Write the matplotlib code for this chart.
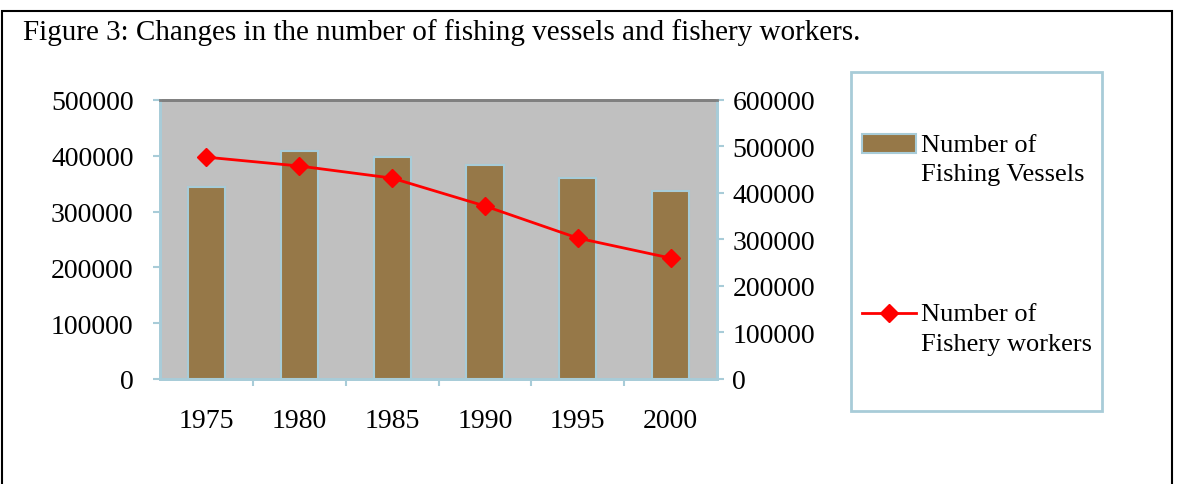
import matplotlib.pyplot as plt
from matplotlib.patches import Rectangle

years = ['1975', '1980', '1985', '1990', '1995', '2000']
vessels = [344000, 408000, 398000, 383000, 360000, 337000]
workers = [477000, 458000, 432000, 372000, 303000, 260000]

plt.rcParams['font.family'] = 'Liberation Serif'

fig = plt.figure(figsize=(11.82, 4.85), dpi=100)
ax = fig.add_axes([0.1354, 0.2165, 0.4712, 0.5753])
ax2 = ax.twinx()

edge = '#A8CCD8'
x = range(len(years))
bars = ax.bar(x, vessels, width=0.4, color='#967848', edgecolor=edge, linewidth=1.5,
              label='Number of\nFishing Vessels', zorder=2)
line, = ax2.plot(x, workers, color='red', lw=2, marker='D', markersize=9,
                 label='Number of\nFishery workers')

ax.set_facecolor('#C0C0C0')
ax.set_xlim(-0.5, 5.5)
ax.set_ylim(0, 500000)
ax2.set_ylim(0, 600000)
ax.set_yticks(range(0, 500001, 100000))
ax2.set_yticks(range(0, 600001, 100000))
ax.set_xticks(x)
ax.set_xticklabels(years)
ax.set_xticks([i + 0.5 for i in range(5)], minor=True)
ax.tick_params(axis='x', which='major', length=0, pad=21, labelsize=20)
ax.tick_params(axis='x', which='minor', length=5, color=edge, width=1.5)
ax.tick_params(axis='y', length=5, color=edge, width=1.5, labelsize=20, pad=14)
ax2.tick_params(axis='y', length=5, color=edge, width=1.5, labelsize=20, pad=6)

for a in (ax, ax2):
    for s in ('left', 'right', 'bottom'):
        a.spines[s].set_color(edge)
        a.spines[s].set_linewidth(2)
    a.spines['top'].set_color('#808080')
    a.spines['top'].set_linewidth(2)

fig.text(0.0195, 0.918, 'Figure 3: Changes in the number of fishing vessels and fishery workers.',
         fontsize=21, va='baseline')

fig.patches.append(Rectangle((0.0017, -0.1), 0.9898, 1.075, transform=fig.transFigure,
                             fill=False, edgecolor='black', linewidth=1.5))
fig.patches.append(Rectangle((0.72, 0.150), 0.212, 0.699, transform=fig.transFigure,
                             fill=False, edgecolor=edge, linewidth=2))

leg = fig.legend([bars, line], [bars.get_label(), line.get_label()], loc='upper left',
                 bbox_to_anchor=(0.729, 0.722), frameon=False, fontsize=19, handlelength=2.05,
                 handletextpad=0.2, labelspacing=4.45, borderpad=0, borderaxespad=0)
for t in leg.get_texts():
    t.set_linespacing(1.45)

# lift the handles to sit beside the first text line, as in the original
dy = 11
h_bar, h_line = leg.legend_handles
h_bar.set_y(h_bar.get_y() + dy)
h_line.set_ydata([v + dy for v in h_line.get_ydata()])

fig.savefig('out.png', dpi=100)
